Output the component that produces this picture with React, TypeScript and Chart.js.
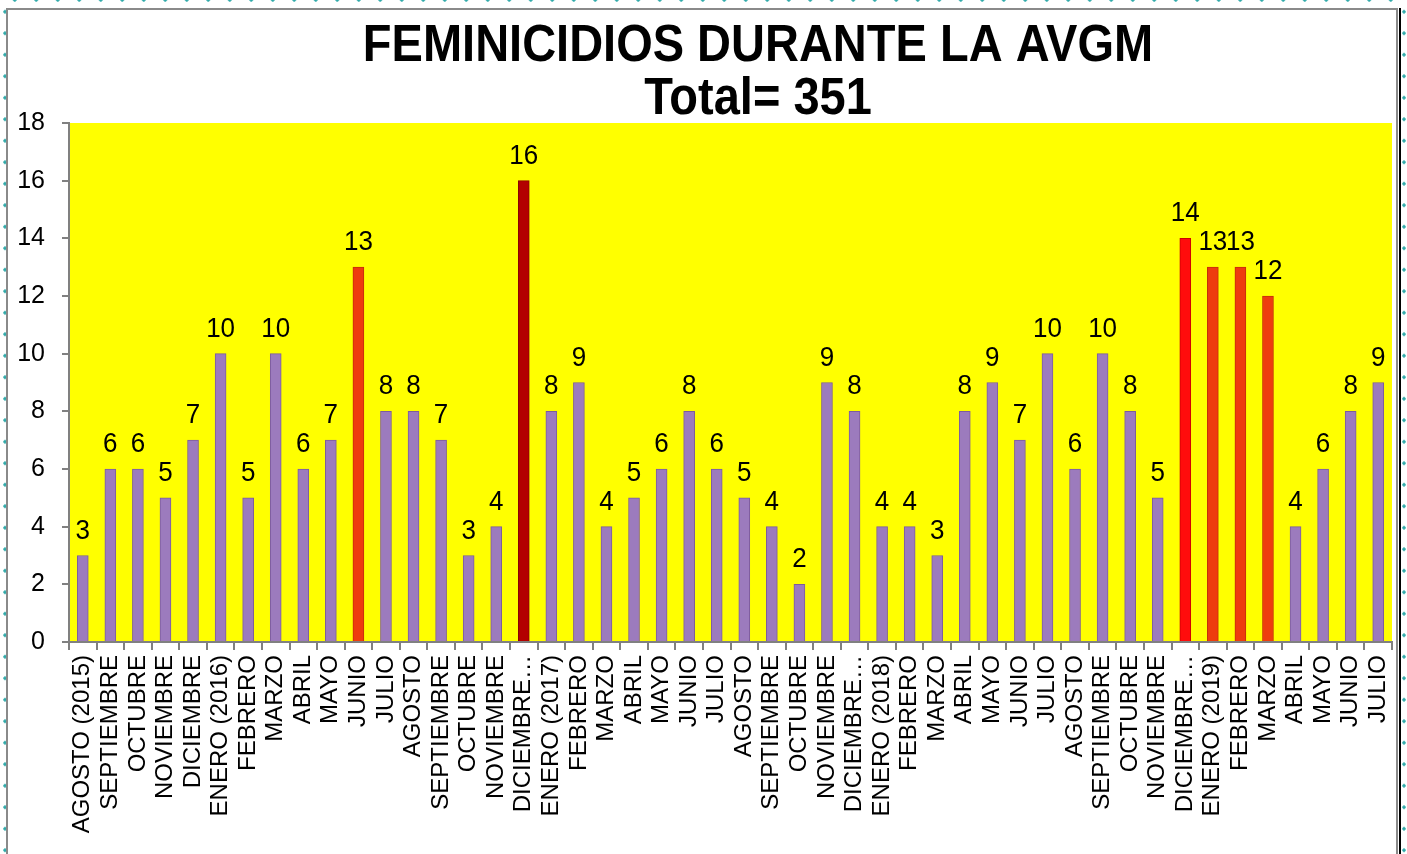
import React, { useEffect, useRef } from "react";
import { Chart, registerables } from "chart.js";

Chart.register(...registerables);

const categories = [
  "AGOSTO (2015)", "SEPTIEMBRE", "OCTUBRE", "NOVIEMBRE", "DICIEMBRE",
  "ENERO (2016)", "FEBRERO", "MARZO", "ABRIL", "MAYO", "JUNIO", "JULIO", "AGOSTO", "SEPTIEMBRE", "OCTUBRE", "NOVIEMBRE", "DICIEMBRE…",
  "ENERO (2017)", "FEBRERO", "MARZO", "ABRIL", "MAYO", "JUNIO", "JULIO", "AGOSTO", "SEPTIEMBRE", "OCTUBRE", "NOVIEMBRE", "DICIEMBRE…",
  "ENERO (2018)", "FEBRERO", "MARZO", "ABRIL", "MAYO", "JUNIO", "JULIO", "AGOSTO", "SEPTIEMBRE", "OCTUBRE", "NOVIEMBRE", "DICIEMBRE…",
  "ENERO (2019)", "FEBRERO", "MARZO", "ABRIL", "MAYO", "JUNIO", "JULIO",
];

const values = [
  3, 6, 6, 5, 7,
  10, 5, 10, 6, 7, 13, 8, 8, 7, 3, 4, 16,
  8, 9, 4, 5, 6, 8, 6, 5, 4, 2, 9, 8,
  4, 4, 3, 8, 9, 7, 10, 6, 10, 8, 5, 14,
  13, 13, 12, 4, 6, 8, 9,
];

// colour key per bar: p = purple, o = orange-red, d = dark red, r = red
const colorKeys = [
  "p", "p", "p", "p", "p",
  "p", "p", "p", "p", "p", "o", "p", "p", "p", "p", "p", "d",
  "p", "p", "p", "p", "p", "p", "p", "p", "p", "p", "p", "p",
  "p", "p", "p", "p", "p", "p", "p", "p", "p", "p", "p", "r",
  "o", "o", "o", "p", "p", "p", "p",
];

const yTicks = [0, 2, 4, 6, 8, 10, 12, 14, 16, 18];

const titleLines = ["FEMINICIDIOS DURANTE LA AVGM", "Total= 351"];

const FILL: Record<string, string> = { p: "#9c7bbd", o: "#ee3c0e", d: "#b30000", r: "#ff0c0c" };
const EDGE: Record<string, string> = { p: "#7d5c9c", o: "#c42e08", d: "#8a0000", r: "#cc0000" };

const FONT = "'Liberation Sans', Arial, sans-serif";

export default function App() {
  const ref = useRef<HTMLCanvasElement | null>(null);

  useEffect(() => {
    const canvas = ref.current;
    if (!canvas) return;

    const bgPlugin = {
      id: "yellowBg",
      beforeDraw(chart: any) {
        const { ctx, chartArea } = chart;
        ctx.save();
        ctx.fillStyle = "#ffff00";
        ctx.fillRect(chartArea.left, chartArea.top, chartArea.right - chartArea.left, chartArea.bottom - chartArea.top);
        ctx.restore();
      },
    };

    const labelPlugin = {
      id: "valueLabels",
      afterDatasetsDraw(chart: any) {
        const { ctx } = chart;
        const meta = chart.getDatasetMeta(0);
        meta.data.forEach((bar: any, i: number) => {
          const { x, y } = bar.getProps(["x", "y"], true);
          ctx.save();
          ctx.translate(x, y - 17);
          ctx.scale(1, 1.08);
          ctx.font = `26px ${FONT}`;
          ctx.fillStyle = "#000";
          ctx.textAlign = "center";
          ctx.textBaseline = "alphabetic";
          ctx.fillText(String(values[i]), 0, 0);
          ctx.restore();
        });
      },
    };

    const titlePlugin = {
      id: "customTitle",
      afterDraw(chart: any) {
        const { ctx } = chart;
        const baselines = [51, 104];
        titleLines.forEach((t, i) => {
          ctx.save();
          ctx.translate(750, baselines[i]);
          ctx.scale(1, 1.1);
          ctx.font = `bold 47px ${FONT}`;
          ctx.fillStyle = "#000";
          ctx.textAlign = "center";
          ctx.textBaseline = "alphabetic";
          ctx.fillText(t, 0, 0);
          ctx.restore();
        });
      },
    };

    const chart = new Chart(canvas, {
      type: "bar",
      data: {
        labels: categories,
        datasets: [
          {
            data: values,
            backgroundColor: colorKeys.map((k) => FILL[k]),
            borderColor: colorKeys.map((k) => EDGE[k]),
            borderWidth: 1,
            barThickness: 11,
          },
        ],
      },
      options: {
        responsive: false,
        maintainAspectRatio: false,
        animation: false,
        devicePixelRatio: 1,
        layout: { padding: { top: 113, right: 5, left: 0, bottom: 0 } },
        plugins: {
          legend: { display: false },
          title: { display: false },
          tooltip: { enabled: false },
        },
        scales: {
          x: {
            afterFit(scale: any) {
              scale.height = 210;
              scale.paddingLeft = 0;
              scale.paddingRight = 0;
            },
            grid: {
              drawOnChartArea: false,
              drawTicks: true,
              tickLength: 8,
              color: "#808080",
              lineWidth: 2,
              offset: true,
            },
            border: { color: "#808080", width: 2 },
            ticks: {
              autoSkip: false,
              minRotation: 90,
              maxRotation: 90,
              padding: 5,
              color: "#000",
              font: { family: FONT, size: 24 },
            },
          },
          y: {
            min: 0,
            max: 18,
            afterFit(scale: any) {
              scale.width = 61;
              scale.paddingTop = 0;
              scale.paddingBottom = 0;
            },
            afterBuildTicks(scale: any) {
              scale.ticks = yTicks.map((v) => ({ value: v }));
            },
            grid: {
              drawOnChartArea: false,
              drawTicks: true,
              tickLength: 7,
              color: "#808080",
              lineWidth: 2,
            },
            border: { color: "#808080", width: 2 },
            ticks: {
              padding: 17,
              color: "#000",
              font: { family: FONT, size: 25 },
            },
          },
        },
      },
      plugins: [bgPlugin, labelPlugin, titlePlugin],
    });

    return () => chart.destroy();
  }, []);

  const dot = "radial-gradient(circle, #2fa9a9 1.4px, rgba(255,255,255,0) 2px)";

  return (
    <div style={{ position: "fixed", left: 0, top: 0, width: 1407, height: 854, background: "#fff", overflow: "hidden" }}>
      <div style={{ position: "absolute", left: 0, top: -3, width: 1407, height: 6, backgroundImage: dot, backgroundSize: "21.5px 6px", backgroundPosition: "4px 0" }} />
      <div style={{ position: "absolute", left: 2, top: 0, width: 6, height: 854, backgroundImage: dot, backgroundSize: "6px 21.5px", backgroundPosition: "0 1px" }} />
      <div style={{ position: "absolute", left: 1401, top: 0, width: 6, height: 854, backgroundImage: dot, backgroundSize: "6px 21.5px", backgroundPosition: "0 1px" }} />
      <div style={{ position: "absolute", left: 6, top: 8, width: 1392, height: 850, border: "2px solid #8a8a8a", boxSizing: "border-box" }} />
      <div style={{ position: "absolute", left: 1399, top: 8, width: 2, height: 846, background: "#000" }} />
      <canvas ref={ref} width={1389} height={842} style={{ position: "absolute", left: 8, top: 10, width: 1389, height: 842 }} />
    </div>
  );
}
